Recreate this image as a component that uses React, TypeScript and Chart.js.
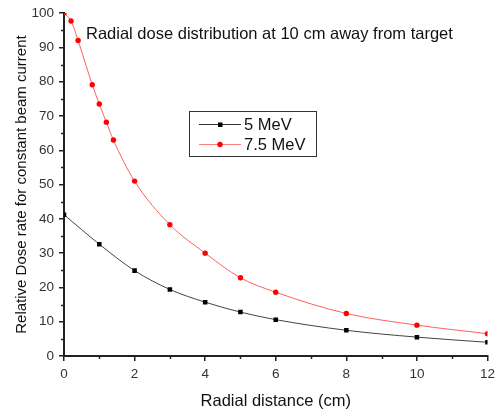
import React, { useEffect, useRef } from "react";
import { Chart, registerables } from "chart.js";
Chart.register(...registerables);

const xTicks = [0, 2, 4, 6, 8, 10, 12];
const yTicks = [0, 10, 20, 30, 40, 50, 60, 70, 80, 90, 100];
const x5MeV = [0, 1, 2, 3, 4, 5, 6, 8, 10, 12];
const y5MeV = [41.2, 32.6, 24.9, 19.4, 15.7, 12.8, 10.6, 7.5, 5.5, 4.0];
const x75MeV = [0, 0.2, 0.4, 0.8, 1.0, 1.2, 1.4, 2, 3, 4, 5, 6, 8, 10, 12];
const y75MeV = [100, 97.7, 92, 79.1, 73.5, 68.2, 63, 51, 38.3, 30, 22.8, 18.6, 12.4, 9.0, 6.5];
const seriesNames = ["5 MeV", "7.5 MeV"];
const titleText = "Radial dose distribution at 10 cm away from target";

const FONT = "'Liberation Sans', Arial, sans-serif";

export default function App() {
  const ref = useRef<HTMLCanvasElement>(null);
  useEffect(() => {
    document.body.style.margin = "0";
    const extras = {
      id: "extras",
      afterDraw(chart: any) {
        const ctx = chart.ctx;
        const xs = chart.scales.x;
        const ys = chart.scales.y;
        const area = chart.chartArea;
        ctx.save();
        // minor ticks
        ctx.strokeStyle = "#222";
        ctx.lineWidth = 1.5;
        ctx.beginPath();
        for (let v = 5; v < 100; v += 10) {
          const py = Math.round(ys.getPixelForValue(v)) + 0.5;
          ctx.moveTo(area.left - 3, py);
          ctx.lineTo(area.left, py);
        }
        for (let v = 1; v < 12; v += 2) {
          const px = Math.round(xs.getPixelForValue(v)) + 0.5;
          ctx.moveTo(px, area.bottom);
          ctx.lineTo(px, area.bottom + 3);
        }
        ctx.stroke();
        // title text
        ctx.fillStyle = "#111";
        ctx.font = `16.5px ${FONT}`;
        ctx.textBaseline = "middle";
        ctx.textAlign = "left";
        ctx.fillText(titleText, 86, 34);
        // legend
        ctx.strokeStyle = "#333";
        ctx.lineWidth = 1;
        ctx.strokeRect(189.5, 111.5, 127, 45);
        const rows = [
          { y: 124, color: "#000", line: "#333", square: true },
          { y: 144, color: "#ff0000", line: "#ff8080", square: false },
        ];
        rows.forEach((r, i) => {
          ctx.strokeStyle = r.line;
          ctx.beginPath();
          ctx.moveTo(199, r.y + 0.5);
          ctx.lineTo(241, r.y + 0.5);
          ctx.stroke();
          ctx.fillStyle = r.color;
          if (r.square) {
            ctx.fillRect(218, r.y - 1.5, 4.5, 4.5);
          } else {
            ctx.beginPath();
            ctx.arc(220, r.y + 0.5, 2.7, 0, Math.PI * 2);
            ctx.fill();
          }
          ctx.fillStyle = "#111";
          ctx.font = `16.5px ${FONT}`;
          ctx.fillText(seriesNames[i], 244, r.y + 1);
        });
        ctx.restore();
      },
    };
    const chart = new Chart(ref.current!, {
      type: "line",
      data: {
        datasets: [
          {
            label: seriesNames[0],
            data: x5MeV.map((x, i) => ({ x, y: y5MeV[i] })),
            borderColor: "#444",
            backgroundColor: "#000",
            borderWidth: 1,
            pointStyle: "rect",
            pointRadius: 3.2,
            pointBorderWidth: 0,
            cubicInterpolationMode: "monotone",
          },
          {
            label: seriesNames[1],
            data: x75MeV.map((x, i) => ({ x, y: y75MeV[i] })),
            borderColor: "#ff6060",
            backgroundColor: "#ff0000",
            borderWidth: 1,
            pointStyle: "circle",
            pointRadius: 2.7,
            pointBorderWidth: 0,
            cubicInterpolationMode: "monotone",
          },
        ],
      },
      options: {
        animation: false,
        responsive: false,
        layout: { padding: { top: 12, right: 10, left: 0, bottom: 0 } },
        plugins: { legend: { display: false }, tooltip: { enabled: false } },
        scales: {
          x: {
            type: "linear",
            min: 0,
            max: 12,
            afterBuildTicks: (s: any) => {
              s.ticks = xTicks.map((v) => ({ value: v }));
            },
            afterFit: (s: any) => {
              s.height = 55;
            },
            border: { display: true, color: "#222", width: 2 },
            grid: { display: true, drawOnChartArea: false, drawTicks: true, tickLength: 5, color: "#222", lineWidth: 1.5 },
            ticks: { color: "#333", font: { family: FONT, size: 13.5 }, padding: 5, maxRotation: 0 },
            title: { display: true, text: "Radial distance (cm)", color: "#111", font: { family: FONT, size: 16.5 }, padding: { top: 5, bottom: 0 } },
          },
          y: {
            type: "linear",
            min: 0,
            max: 100,
            afterBuildTicks: (s: any) => {
              s.ticks = yTicks.map((v) => ({ value: v }));
            },
            afterFit: (s: any) => {
              s.width = 64;
            },
            border: { display: true, color: "#222", width: 2 },
            grid: { display: true, drawOnChartArea: false, drawTicks: true, tickLength: 5, color: "#222", lineWidth: 1.5 },
            ticks: { color: "#333", font: { family: FONT, size: 13.5 }, padding: 5 },
            title: { display: true, text: "Relative Dose rate for constant beam current", color: "#111", font: { family: FONT, size: 15 }, padding: { top: 13, bottom: 0 } },
          },
        },
      },
      plugins: [extras],
    } as any);
    return () => chart.destroy();
  }, []);
  return (
    <div style={{ width: 500, height: 411, background: "#fff" }}>
      <canvas ref={ref} width={500} height={411} />
    </div>
  );
}
